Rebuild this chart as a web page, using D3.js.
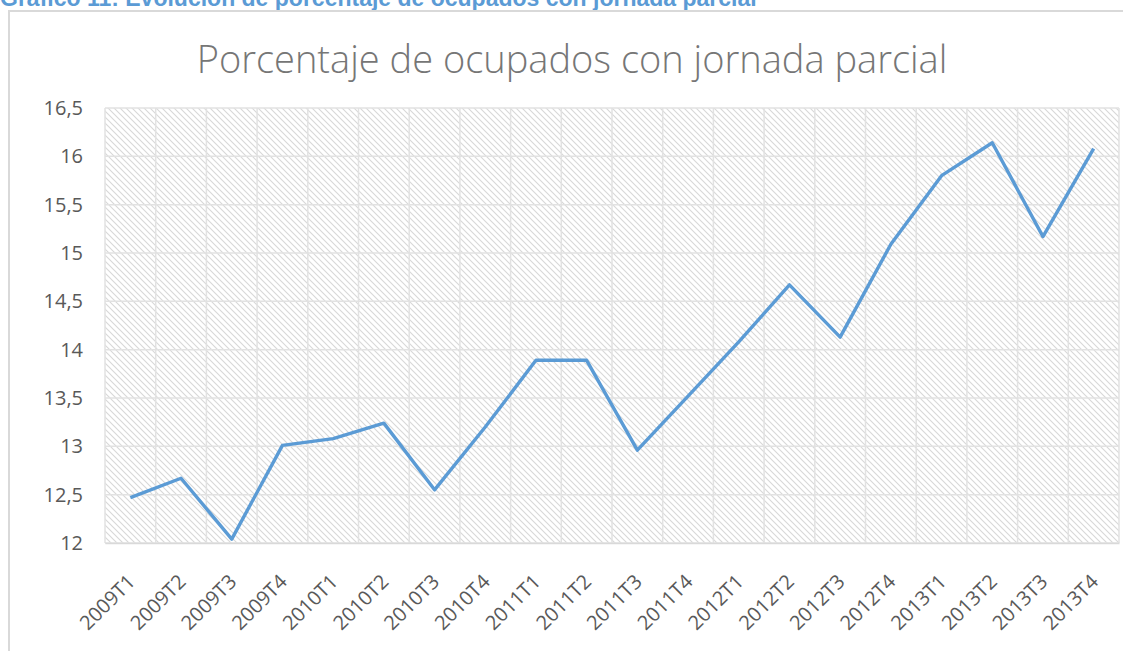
<!DOCTYPE html>
<html lang="es">
<head>
<meta charset="utf-8">
<title>Porcentaje de ocupados con jornada parcial</title>
<script src="https://cdn.jsdelivr.net/npm/d3@7"></script>
<style>
  body { margin: 0; background: #fff; }
  svg { display: block; }
</style>
</head>
<body>
<script>
// data
var periods = ["2009T1","2009T2","2009T3","2009T4","2010T1","2010T2","2010T3","2010T4",
               "2011T1","2011T2","2011T3","2011T4","2012T1","2012T2","2012T3","2012T4",
               "2013T1","2013T2","2013T3","2013T4"];
var pctParcial = [12.47, 12.67, 12.04, 13.01, 13.08, 13.24, 12.55, 13.20,
                  13.89, 13.89, 12.96, 13.52, 14.08, 14.67, 14.13, 15.09,
                  15.80, 16.14, 15.17, 16.08];
var yTicks = [12, 12.5, 13, 13.5, 14, 14.5, 15, 15.5, 16, 16.5];

var W = 1123, H = 651;
var plot = {left: 105, right: 1119, top: 108, bottom: 543};

var svg = d3.select("body").append("svg")
    .attr("width", W).attr("height", H);

// hatch pattern for plot area
var defs = svg.append("defs");
var pat = defs.append("pattern")
    .attr("id", "hatch")
    .attr("patternUnits", "userSpaceOnUse")
    .attr("width", 6).attr("height", 6);
pat.append("rect").attr("width", 6).attr("height", 6).attr("fill", "#fff");
pat.append("path")
    .attr("d", "M-1,-1 L7,7 M-1,5 L1,7 M5,-1 L7,1")
    .attr("stroke", "#d8d8d8").attr("stroke-width", 1.1);

// heading (cut off at top, like the reference)
svg.append("text")
    .attr("x", 0).attr("y", 6)
    .attr("font-family", "Liberation Sans, Arial, sans-serif")
    .attr("font-weight", "bold")
    .attr("font-size", 23)
    .attr("fill", "#5b9bd5")
    .text("Gráfico 11: Evolución de porcentaje de ocupados con jornada parcial");

// chart frame
svg.append("path")
    .attr("d", "M9," + H + " V11 H" + W)
    .attr("fill", "none")
    .attr("stroke", "#d9d9d9")
    .attr("stroke-width", 2);

var x = d3.scaleBand().domain(periods).range([plot.left, plot.right]);
var y = d3.scaleLinear().domain([12, 16.5]).range([plot.bottom, plot.top]);

svg.append("rect")
    .attr("x", plot.left).attr("y", plot.top)
    .attr("width", plot.right - plot.left)
    .attr("height", plot.bottom - plot.top)
    .attr("fill", "url(#hatch)");

// horizontal gridlines
svg.append("g").selectAll("line")
  .data(yTicks)
  .enter().append("line")
    .attr("x1", plot.left).attr("x2", plot.right)
    .attr("y1", function(d){ return y(d); })
    .attr("y2", function(d){ return y(d); })
    .attr("stroke", "#e2e2e2").attr("stroke-width", 1.5);

// vertical gridlines at category boundaries
var bounds = periods.map(function(p){ return x(p); }).concat([plot.right]);
svg.append("g").selectAll("line")
  .data(bounds)
  .enter().append("line")
    .attr("x1", function(d){ return d; }).attr("x2", function(d){ return d; })
    .attr("y1", plot.top).attr("y2", plot.bottom)
    .attr("stroke", "#e2e2e2").attr("stroke-width", 1.5);

// y axis labels
var fmt = function(d){ return String(d).replace(".", ","); };
var yAxis = svg.append("g")
    .attr("transform", "translate(" + (plot.left - 22) + ",0)")
    .call(d3.axisLeft(y).tickValues(yTicks).tickFormat(fmt).tickSize(0).tickPadding(0));
yAxis.select(".domain").remove();
yAxis.selectAll("text")
    .attr("font-family", "Open Sans, sans-serif")
    .attr("font-size", 20)
    .attr("fill", "#595959");

// x axis labels
var xAxis = svg.append("g")
    .attr("transform", "translate(0," + plot.bottom + ")")
    .call(d3.axisBottom(x).tickSize(0).tickPadding(0));
xAxis.select(".domain").attr("stroke", "#d9d9d9").attr("stroke-width", 1.5);
xAxis.selectAll("text")
    .attr("font-family", "Open Sans, sans-serif")
    .attr("font-size", 20)
    .attr("fill", "#595959")
    .attr("text-anchor", "end")
    .attr("dy", 0)
    .attr("transform", "translate(6,40) rotate(-45)");

// line
var line = d3.line()
    .x(function(d, i){ return x(periods[i]) + x.bandwidth() / 2; })
    .y(function(d){ return y(d); });
svg.append("path")
    .datum(pctParcial)
    .attr("d", line)
    .attr("fill", "none")
    .attr("stroke", "#5b9bd5")
    .attr("stroke-width", 3.4)
    .attr("stroke-linejoin", "round");

// chart title
svg.append("text")
    .attr("x", 572).attr("y", 73)
    .attr("text-anchor", "middle")
    .attr("font-family", "Open Sans, sans-serif")
    .attr("font-weight", 300)
    .attr("font-size", 38)
    .attr("fill", "#767676")
    .text("Porcentaje de ocupados con jornada parcial");
</script>
</body>
</html>
